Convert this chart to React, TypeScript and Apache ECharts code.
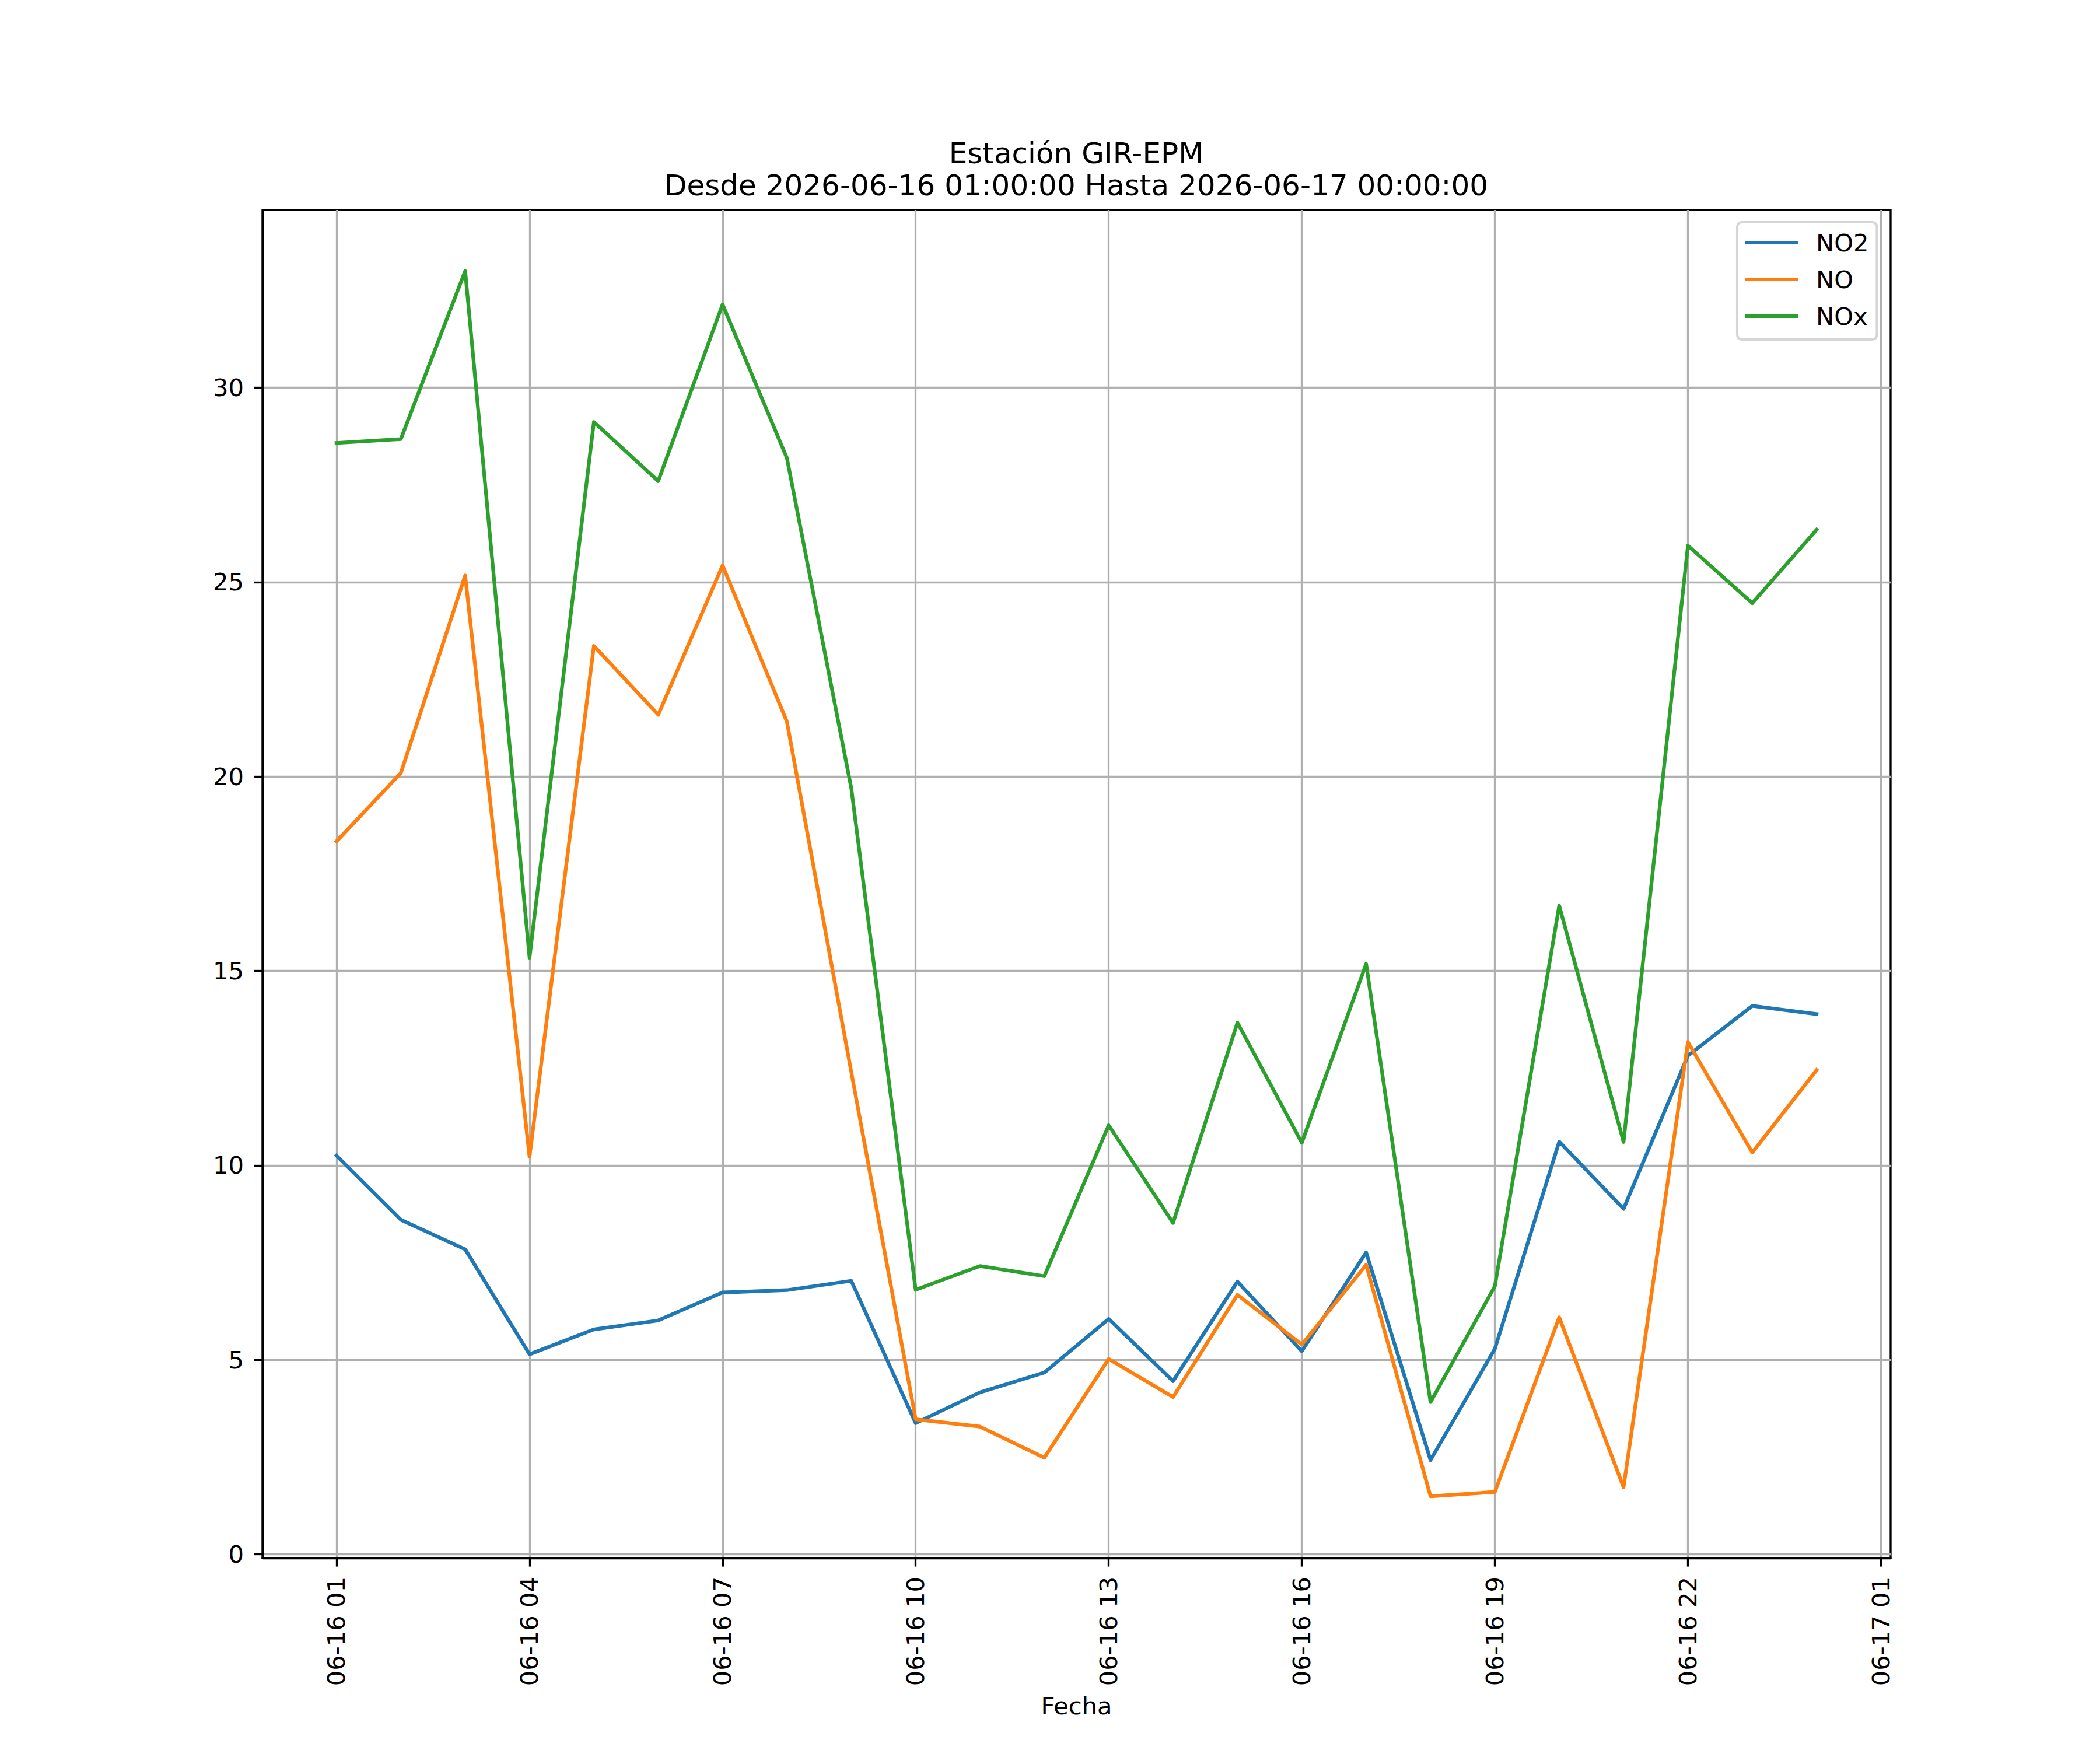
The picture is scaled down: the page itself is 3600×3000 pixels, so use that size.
import React, { useEffect, useRef } from 'react';
import * as echarts from 'echarts';

// horas del 2026-06-16 (24 = 06-17 00:00)
const hours = [1, 2, 3, 4, 5, 6, 7, 8, 9, 10, 11, 12, 13, 14, 15, 16, 17, 18, 19, 20, 21, 22, 23, 24];

const no2 = [10.25, 8.6, 7.84, 5.14, 5.78, 6.01, 6.73, 6.79, 7.03, 3.37, 4.16, 4.67, 6.05, 4.45, 7.01, 5.22, 7.76, 2.42, 5.28, 10.61, 8.88, 12.82, 14.1, 13.89];
const no = [18.33, 20.09, 25.17, 10.22, 23.36, 21.59, 25.43, 21.41, 12.4, 3.47, 3.28, 2.48, 5.02, 4.04, 6.67, 5.39, 7.44, 1.49, 1.6, 6.09, 1.72, 13.17, 10.33, 12.45];
const nox = [28.58, 28.68, 33.0, 15.34, 29.12, 27.6, 32.14, 28.19, 19.7, 6.8, 7.41, 7.15, 11.03, 8.52, 13.67, 10.58, 15.18, 3.91, 6.89, 16.68, 10.6, 25.94, 24.46, 26.35];

const xTickHours = [1, 4, 7, 10, 13, 16, 19, 22, 25];
const xTickLabels = ['06-16 01', '06-16 04', '06-16 07', '06-16 10', '06-16 13', '06-16 16', '06-16 19', '06-16 22', '06-17 01'];
const yTicks = [0, 5, 10, 15, 20, 25, 30];

const titleLines = ['Estación GIR-EPM', 'Desde 2026-06-16 01:00:00 Hasta 2026-06-17 00:00:00'];

const FONT = 'DejaVu Sans';
const PT = 300 / 72;

const App: React.FC = () => {
    const chartRef = useRef<HTMLDivElement>(null);

    useEffect(() => {
        if (!chartRef.current) return;
        const chart = echarts.init(chartRef.current, undefined, { renderer: 'svg' });

        const mkSeries = (name: string, values: number[], color: string) => ({
            type: 'line',
            name,
            data: hours.map((h, i) => [h, values[i]]),
            showSymbol: false,
            color,
            lineStyle: { color, width: 1.5 * PT, join: 'round', cap: 'square' },
        });

        const option = {
            animation: false,
            backgroundColor: '#ffffff',
            graphic: titleLines.map((t, i) => ({
                type: 'text',
                x: 1845,
                y: 263 + i * 55,
                style: {
                    text: t,
                    fontFamily: FONT,
                    fontSize: 12 * PT,
                    fill: '#000',
                    textAlign: 'center',
                    textVerticalAlign: 'middle',
                },
            })),
            grid: {
                left: 450,
                top: 360,
                width: 2791,
                height: 2311,
                show: true,
                borderColor: '#000',
                borderWidth: 0.8 * PT,
                backgroundColor: 'transparent',
            },
            legend: {
                orient: 'vertical',
                left: 2978,
                top: 381,
                align: 'left',
                data: ['NO2', 'NO', 'NOx'],
                icon: 'rect',
                itemWidth: 90,
                itemHeight: 6,
                itemGap: 21,
                padding: [14, 14, 19, 14],
                backgroundColor: 'rgba(255,255,255,0.8)',
                borderColor: '#d6d6d6',
                borderWidth: 1 * PT,
                borderRadius: 8,
                textStyle: {
                    fontFamily: FONT,
                    fontSize: 10 * PT,
                    color: '#000',
                    lineHeight: 42,
                    padding: [0, 0, 0, 26],
                },
            },
            xAxis: {
                type: 'value',
                min: -0.15,
                max: 25.15,
                name: 'Fecha',
                nameLocation: 'middle',
                nameGap: 232,
                nameTextStyle: { fontFamily: FONT, fontSize: 10 * PT, color: '#000' },
                axisLine: { show: true, onZero: false, lineStyle: { color: '#000', width: 0.8 * PT } },
                axisTick: {
                    show: true,
                    length: 3.5 * PT,
                    customValues: xTickHours,
                    lineStyle: { color: '#000', width: 0.8 * PT },
                },
                axisLabel: {
                    customValues: xTickHours,
                    rotate: 90,
                    margin: 32,
                    fontFamily: FONT,
                    fontSize: 10 * PT,
                    color: '#000',
                    formatter: (v: number) => xTickLabels[xTickHours.indexOf(v)] ?? '',
                },
                splitLine: { show: true, lineStyle: { color: '#b0b0b0', width: 0.8 * PT } },
            },
            yAxis: {
                type: 'value',
                min: -0.1,
                max: 34.57,
                axisLine: { show: true, onZero: false, lineStyle: { color: '#000', width: 0.8 * PT } },
                axisTick: {
                    show: true,
                    length: 3.5 * PT,
                    customValues: yTicks,
                    lineStyle: { color: '#000', width: 0.8 * PT },
                },
                axisLabel: {
                    customValues: yTicks,
                    margin: 32,
                    fontFamily: FONT,
                    fontSize: 10 * PT,
                    color: '#000',
                    formatter: (v: number) => String(v),
                },
                splitLine: { show: true, lineStyle: { color: '#b0b0b0', width: 0.8 * PT } },
            },
            series: [
                mkSeries('NO2', no2, '#1f77b4'),
                mkSeries('NO', no, '#ff7f0e'),
                mkSeries('NOx', nox, '#2ca02c'),
            ],
        };

        chart.setOption(option as any);

        return () => {
            chart.dispose();
        };
    }, []);

    return (
        <div
            ref={chartRef}
            style={{ position: 'absolute', left: 0, top: 0, width: '3600px', height: '3000px' }}
        />
    );
};

export default App;
